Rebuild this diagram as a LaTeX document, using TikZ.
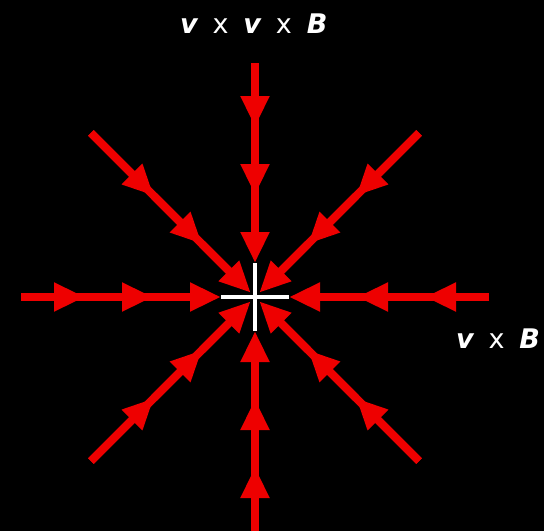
\documentclass[tikz,border=0pt]{standalone}
\usepackage{fontspec}
\setmainfont{DejaVu Sans}
\usetikzlibrary{arrows.meta,calc}
\definecolor{fieldred}{RGB}{238,0,0}
\tikzset{
  ray/.style={draw=fieldred, line width=8pt, -{Triangle[length=31pt,width=27pt]}},
  shaft/.style={draw=fieldred, line width=8pt},
  core/.style={draw=white, line width=3.5pt},
  lab/.style={text=white, font=\fontsize{27}{30}\selectfont, anchor=base west, inner sep=0pt},
}
\newcommand{\vb}[1]{{\bfseries\itshape #1}}
\newcommand{\gap}{\hspace{0.55em}}
\begin{document}
\begin{tikzpicture}[x=1pt,y=-1pt]
\fill[black] (0,0) rectangle (544,531);
\useasboundingbox (0,0) rectangle (544,531);
\coordinate (O) at (255,297);
% straight rays
\foreach \a in {0,90,180,270} {
  \coordinate (s\a-0) at ($(O)+(\a:234)$);
  \coordinate (s\a-1) at ($(O)+(\a:170)$);
  \coordinate (s\a-2) at ($(O)+(\a:102)$);
  \coordinate (s\a-3) at ($(O)+(\a:34)$);
  \coordinate (s\a-b) at ($(O)+(\a:55)$);
  \draw[shaft] (s\a-0) -- (s\a-b);
  \draw[ray] (s\a-0) -- (s\a-1);
  \draw[ray] (s\a-1) -- (s\a-2);
  \draw[ray] (s\a-2) -- (s\a-3);
}
% diagonal rays
\foreach \a in {45,135,225,315} {
  \coordinate (d\a-0) at ($(O)+(\a:232)$);
  \coordinate (d\a-1) at ($(O)+(\a:143)$);
  \coordinate (d\a-2) at ($(O)+(\a:75)$);
  \coordinate (d\a-3) at ($(O)+(\a:6)$);
  \coordinate (d\a-b) at ($(O)+(\a:27)$);
  \draw[shaft] (d\a-0) -- (d\a-b);
  \draw[ray] (d\a-0) -- (d\a-1);
  \draw[ray] (d\a-1) -- (d\a-2);
  \draw[ray] (d\a-2) -- (d\a-3);
}
% white core
\draw[core] (s180-3) -- (s0-3);
\draw[core] (s90-3) -- (s270-3);
% labels
\node[lab] (top) at (180,33) {\vb{v}\gap x\gap\vb{v}\gap x\gap\vb{B}};
\node[lab] (right) at (456,348) {\vb{v}\gap x\gap\vb{B}};
\end{tikzpicture}
\end{document}
